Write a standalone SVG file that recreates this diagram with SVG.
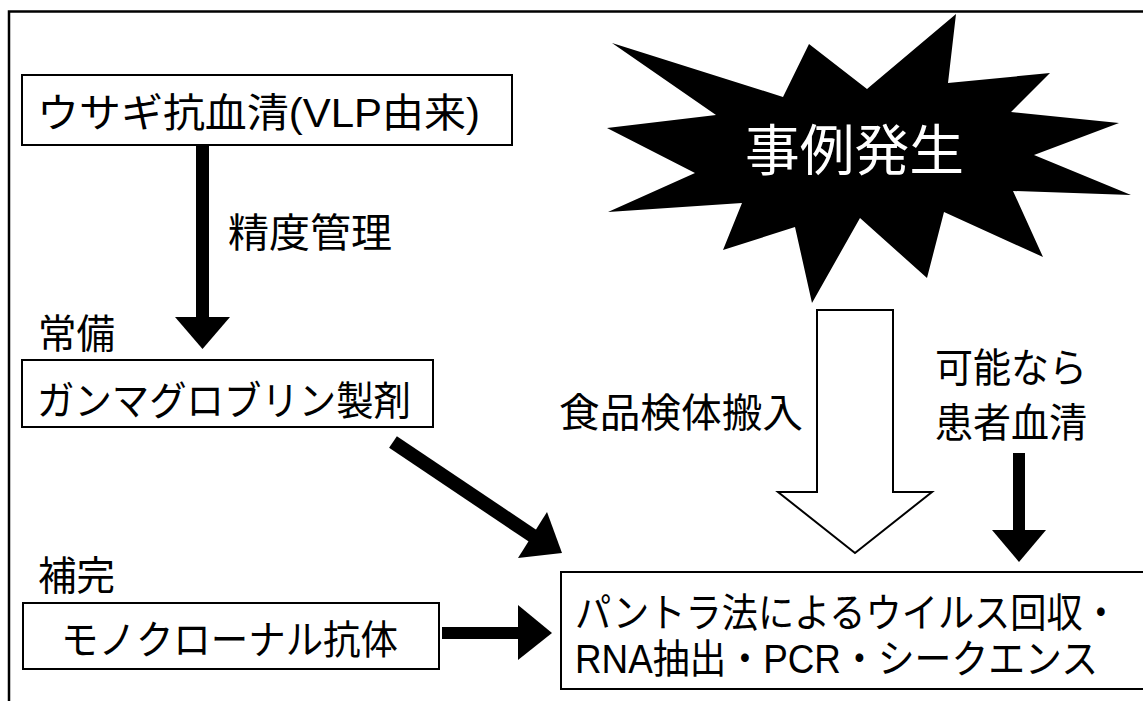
<svg xmlns="http://www.w3.org/2000/svg" width="1143" height="701" viewBox="0 0 1143 701">
<style>
.box{fill:#fff;stroke:#000;stroke-width:2}
.t{font-family:"Liberation Sans","Noto Sans CJK JP",sans-serif;font-size:40px;fill:#000}
.blk{fill:#000;stroke:none}
</style>
<rect x="0" y="0" width="1143" height="701" fill="#fff"/>
<g id="frame">
<path d="M9 701 V11.5 H1143" fill="none" stroke="#000" stroke-width="2.5"/>
</g>
<g id="connectors">
<rect class="blk" x="196" y="146" width="13" height="172"/>
<polygon class="blk" points="175,317 230,317 202.5,349"/>
<line x1="393" y1="442" x2="533" y2="536" stroke="#000" stroke-width="14"/>
<polygon class="blk" points="547,512 518,558 562,553"/>
<rect class="blk" x="442" y="627" width="80" height="12"/>
<polygon class="blk" points="518,605 518,660 552,633"/>
<polygon points="817,310 893,310 893,492 932,492 855,553 778,492 817,492" fill="#fff" stroke="#000" stroke-width="2"/>
<rect class="blk" x="1013" y="453" width="12" height="78"/>
<polygon class="blk" points="992,530 1046,530 1019,562"/>
</g>
<g id="star">
<polygon class="blk" points="612,43 783,97 809,44 867,89 956,14 948,83 1050,73 1011,112 1119,123 1034,155 1131,195 1013,191 1043,257 944,212 927,278 860,218 812,303 795,227 723,250 742,203 608,212 695,173 607,128 716,115"/>
<text x="745" y="170" font-family="Liberation Sans,Noto Sans CJK JP,sans-serif" font-size="55" fill="#fff" textLength="219" lengthAdjust="spacingAndGlyphs">事例発生</text>
</g>
<g id="node-rabbit">
<rect class="box" x="22" y="75" width="490" height="70"/>
<text class="t" x="37" y="127" textLength="443" lengthAdjust="spacingAndGlyphs">ウサギ抗血清(VLP由来)</text>
</g>
<g id="label-qc">
<text class="t" x="228" y="247" textLength="164" lengthAdjust="spacingAndGlyphs">精度管理</text>
</g>
<g id="label-jobi">
<text class="t" x="38" y="348" textLength="77" lengthAdjust="spacingAndGlyphs">常備</text>
</g>
<g id="node-gamma">
<rect class="box" x="22" y="360" width="411" height="67"/>
<text class="t" x="37" y="415" textLength="374" lengthAdjust="spacingAndGlyphs">ガンマグロブリン製剤</text>
</g>
<g id="label-hokan">
<text class="t" x="38" y="590" textLength="77" lengthAdjust="spacingAndGlyphs">補完</text>
</g>
<g id="node-mono">
<rect class="box" x="23" y="603" width="416" height="66"/>
<text class="t" x="61" y="654" textLength="337" lengthAdjust="spacingAndGlyphs">モノクローナル抗体</text>
</g>
<g id="label-food">
<text class="t" x="559" y="427" textLength="244" lengthAdjust="spacingAndGlyphs">食品検体搬入</text>
</g>
<g id="label-patient">
<text class="t" x="935" y="382" textLength="152" lengthAdjust="spacingAndGlyphs">可能なら</text>
<text class="t" x="935" y="437" textLength="152" lengthAdjust="spacingAndGlyphs">患者血清</text>
</g>
<g id="node-pantra">
<rect class="box" x="561" y="572" width="583" height="117"/>
<text class="t" x="575" y="627" textLength="544" lengthAdjust="spacingAndGlyphs">パントラ法によるウイルス回収・</text>
<text class="t" x="575" y="673" textLength="523" lengthAdjust="spacingAndGlyphs">RNA抽出・PCR・シークエンス</text>
</g>
</svg>
